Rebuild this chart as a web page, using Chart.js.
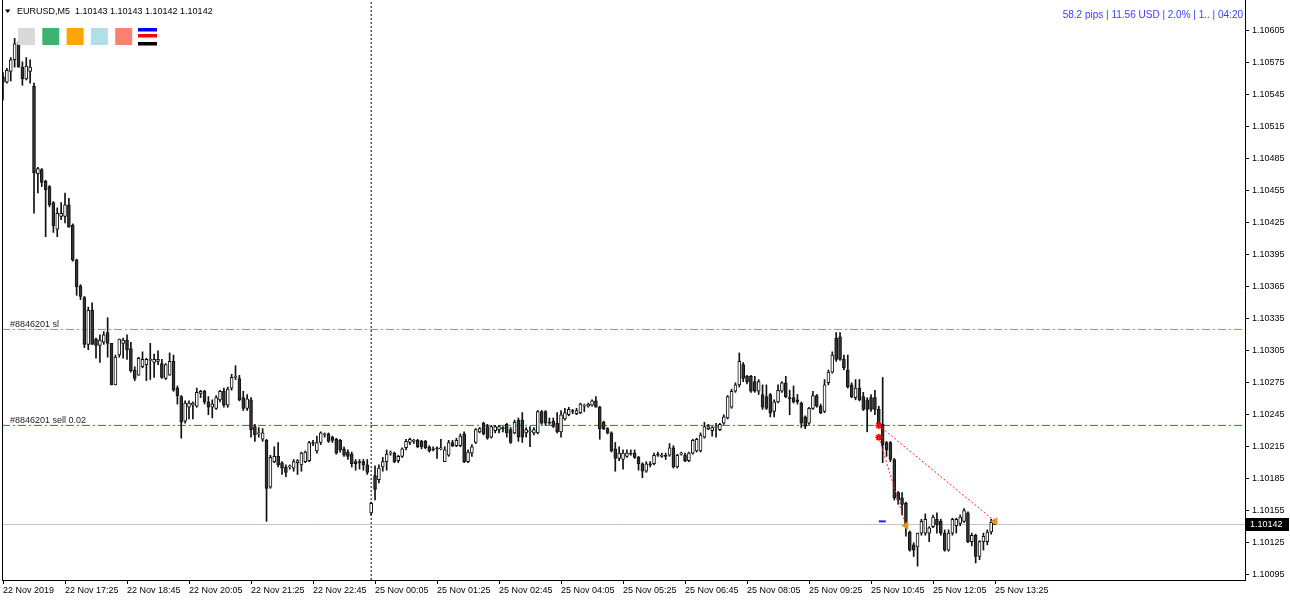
<!DOCTYPE html>
<html>
<head>
    <title>EURUSD,M5</title>
    <script src="https://cdn.jsdelivr.net/npm/chart.js"></script>
    <style>
        body {
            margin: 0;
            background: #ffffff;
        }

        canvas {
            display: block;
        }
    </style>
</head>
<body>
    <canvas id="price-chart" width="1290" height="600" style="width:1290px;height:600px"></canvas>

    <script>
        // EURUSD M5, 22 Nov 2019 16:05 .. 25 Nov 2019 13:25 (one entry per bar)
        const openP = [
            1.10562, 1.10557, 1.10567, 1.10578, 1.10592, 1.10571, 1.10560, 1.10567, 1.10553, 1.10471,
            1.10475, 1.10464, 1.10459, 1.10444, 1.10419, 1.10431, 1.10431, 1.10442, 1.10423, 1.10390,
            1.10366, 1.10355, 1.10311, 1.10343, 1.10316, 1.10310, 1.10313, 1.10322, 1.10312, 1.10273,
            1.10301, 1.10312, 1.10315, 1.10307, 1.10287, 1.10282, 1.10290, 1.10292, 1.10296, 1.10294,
            1.10295, 1.10293, 1.10279, 1.10282, 1.10295, 1.10270, 1.10262, 1.10239, 1.10252, 1.10254,
            1.10253, 1.10265, 1.10267, 1.10257, 1.10252, 1.10251, 1.10259, 1.10267, 1.10254, 1.10270,
            1.10280, 1.10279, 1.10261, 1.10251, 1.10259, 1.10234, 1.10227, 1.10222, 1.10221, 1.10177,
            1.10201, 1.10206, 1.10200, 1.10196, 1.10196, 1.10195, 1.10200, 1.10198, 1.10201, 1.10202,
            1.10219, 1.10211, 1.10219, 1.10226, 1.10227, 1.10224, 1.10222, 1.10221, 1.10213, 1.10210,
            1.10208, 1.10201, 1.10201, 1.10201, 1.10198, 1.10153, 1.10188, 1.10184, 1.10196, 1.10201,
            1.10209, 1.10209, 1.10202, 1.10206, 1.10214, 1.10219, 1.10220, 1.10221, 1.10220, 1.10220,
            1.10215, 1.10213, 1.10214, 1.10213, 1.10201, 1.10207, 1.10219, 1.10216, 1.10216, 1.10227,
            1.10201, 1.10209, 1.10219, 1.10229, 1.10237, 1.10234, 1.10224, 1.10230, 1.10231, 1.10233,
            1.10236, 1.10231, 1.10228, 1.10240, 1.10240, 1.10228, 1.10229, 1.10228, 1.10228, 1.10248,
            1.10248, 1.10238, 1.10239, 1.10237, 1.10229, 1.10241, 1.10245, 1.10249, 1.10246, 1.10247,
            1.10253, 1.10253, 1.10254, 1.10258, 1.10252, 1.10238, 1.10232, 1.10228, 1.10213, 1.10204,
            1.10203, 1.10206, 1.10209, 1.10209, 1.10205, 1.10199, 1.10192, 1.10199, 1.10199, 1.10208,
            1.10206, 1.10207, 1.10207, 1.10214, 1.10196, 1.10208, 1.10207, 1.10202, 1.10209, 1.10211,
            1.10211, 1.10224, 1.10232, 1.10230, 1.10233, 1.10231, 1.10237, 1.10242, 1.10252, 1.10267,
            1.10273, 1.10292, 1.10281, 1.10281, 1.10276, 1.10267, 1.10264, 1.10262, 1.10264, 1.10248,
            1.10257, 1.10267, 1.10275, 1.10261, 1.10261, 1.10259, 1.10256, 1.10243, 1.10237, 1.10251,
            1.10263, 1.10253, 1.10248, 1.10275, 1.10285, 1.10317, 1.10318, 1.10297, 1.10287, 1.10273,
            1.10261, 1.10270, 1.10262, 1.10259, 1.10261, 1.10261, 1.10250, 1.10236, 1.10219, 1.10219,
            1.10203, 1.10172, 1.10167, 1.10162, 1.10135, 1.10123, 1.10121, 1.10134, 1.10134, 1.10134,
            1.10140, 1.10147, 1.10145, 1.10134, 1.10118, 1.10134, 1.10141, 1.10143, 1.10145, 1.10153,
            1.10126, 1.10132, 1.10112, 1.10126, 1.10126, 1.10135, 1.10143
        ];
        const highP = [
            1.10566, 1.10570, 1.10580, 1.10598, 1.10595, 1.10576, 1.10580, 1.10578, 1.10556, 1.10477,
            1.10476, 1.10465, 1.10460, 1.10445, 1.10439, 1.10444, 1.10453, 1.10448, 1.10424, 1.10391,
            1.10367, 1.10356, 1.10346, 1.10350, 1.10317, 1.10320, 1.10323, 1.10336, 1.10312, 1.10301,
            1.10316, 1.10317, 1.10320, 1.10313, 1.10290, 1.10299, 1.10304, 1.10298, 1.10312, 1.10302,
            1.10305, 1.10297, 1.10293, 1.10303, 1.10301, 1.10272, 1.10263, 1.10258, 1.10258, 1.10257,
            1.10270, 1.10268, 1.10268, 1.10262, 1.10259, 1.10263, 1.10268, 1.10270, 1.10271, 1.10283,
            1.10291, 1.10282, 1.10267, 1.10264, 1.10261, 1.10236, 1.10233, 1.10232, 1.10222, 1.10207,
            1.10215, 1.10219, 1.10201, 1.10198, 1.10198, 1.10203, 1.10203, 1.10210, 1.10211, 1.10220,
            1.10221, 1.10225, 1.10229, 1.10228, 1.10228, 1.10225, 1.10223, 1.10222, 1.10215, 1.10212,
            1.10210, 1.10203, 1.10203, 1.10203, 1.10203, 1.10163, 1.10197, 1.10198, 1.10205, 1.10212,
            1.10211, 1.10210, 1.10207, 1.10214, 1.10222, 1.10223, 1.10222, 1.10222, 1.10221, 1.10221,
            1.10216, 1.10215, 1.10215, 1.10222, 1.10215, 1.10221, 1.10221, 1.10223, 1.10227, 1.10229,
            1.10212, 1.10217, 1.10232, 1.10233, 1.10238, 1.10236, 1.10235, 1.10235, 1.10235, 1.10234,
            1.10237, 1.10233, 1.10240, 1.10242, 1.10247, 1.10233, 1.10234, 1.10233, 1.10249, 1.10249,
            1.10249, 1.10242, 1.10242, 1.10247, 1.10249, 1.10251, 1.10252, 1.10250, 1.10251, 1.10256,
            1.10255, 1.10256, 1.10259, 1.10262, 1.10253, 1.10239, 1.10233, 1.10229, 1.10219, 1.10215,
            1.10212, 1.10212, 1.10212, 1.10212, 1.10206, 1.10200, 1.10201, 1.10201, 1.10209, 1.10210,
            1.10209, 1.10209, 1.10218, 1.10216, 1.10208, 1.10210, 1.10209, 1.10210, 1.10222, 1.10223,
            1.10228, 1.10238, 1.10236, 1.10234, 1.10237, 1.10237, 1.10245, 1.10263, 1.10269, 1.10275,
            1.10303, 1.10294, 1.10282, 1.10282, 1.10281, 1.10278, 1.10273, 1.10273, 1.10265, 1.10259,
            1.10273, 1.10276, 1.10281, 1.10268, 1.10272, 1.10264, 1.10257, 1.10244, 1.10252, 1.10267,
            1.10264, 1.10255, 1.10278, 1.10287, 1.10304, 1.10322, 1.10322, 1.10301, 1.10301, 1.10275,
            1.10278, 1.10278, 1.10266, 1.10261, 1.10264, 1.10268, 1.10253, 1.10280, 1.10220, 1.10220,
            1.10204, 1.10173, 1.10172, 1.10163, 1.10136, 1.10125, 1.10134, 1.10147, 1.10152, 1.10140,
            1.10151, 1.10153, 1.10147, 1.10137, 1.10137, 1.10148, 1.10148, 1.10151, 1.10157, 1.10154,
            1.10134, 1.10133, 1.10127, 1.10134, 1.10137, 1.10147, 1.10143
        ];
        const lowP = [
            1.10540, 1.10556, 1.10558, 1.10571, 1.10571, 1.10554, 1.10559, 1.10556, 1.10434, 1.10453,
            1.10459, 1.10412, 1.10440, 1.10416, 1.10412, 1.10428, 1.10425, 1.10421, 1.10389, 1.10357,
            1.10353, 1.10308, 1.10306, 1.10311, 1.10298, 1.10294, 1.10311, 1.10299, 1.10273, 1.10273,
            1.10299, 1.10298, 1.10297, 1.10285, 1.10277, 1.10282, 1.10289, 1.10277, 1.10278, 1.10280,
            1.10292, 1.10279, 1.10278, 1.10282, 1.10267, 1.10255, 1.10223, 1.10237, 1.10241, 1.10241,
            1.10252, 1.10261, 1.10255, 1.10245, 1.10242, 1.10250, 1.10257, 1.10252, 1.10252, 1.10268,
            1.10278, 1.10258, 1.10249, 1.10249, 1.10224, 1.10220, 1.10224, 1.10220, 1.10145, 1.10176,
            1.10200, 1.10196, 1.10189, 1.10187, 1.10194, 1.10192, 1.10189, 1.10192, 1.10200, 1.10201,
            1.10216, 1.10209, 1.10217, 1.10224, 1.10219, 1.10219, 1.10208, 1.10210, 1.10206, 1.10203,
            1.10196, 1.10193, 1.10194, 1.10193, 1.10189, 1.10151, 1.10165, 1.10181, 1.10192, 1.10193,
            1.10207, 1.10200, 1.10200, 1.10205, 1.10212, 1.10217, 1.10218, 1.10214, 1.10213, 1.10213,
            1.10210, 1.10211, 1.10204, 1.10212, 1.10201, 1.10206, 1.10215, 1.10215, 1.10215, 1.10200,
            1.10200, 1.10206, 1.10218, 1.10228, 1.10226, 1.10222, 1.10223, 1.10228, 1.10228, 1.10229,
            1.10224, 1.10218, 1.10227, 1.10220, 1.10219, 1.10224, 1.10215, 1.10226, 1.10227, 1.10236,
            1.10235, 1.10236, 1.10233, 1.10228, 1.10224, 1.10240, 1.10244, 1.10246, 1.10245, 1.10246,
            1.10248, 1.10252, 1.10253, 1.10252, 1.10222, 1.10231, 1.10227, 1.10210, 1.10192, 1.10202,
            1.10194, 1.10205, 1.10207, 1.10204, 1.10193, 1.10186, 1.10191, 1.10196, 1.10198, 1.10206,
            1.10205, 1.10203, 1.10206, 1.10195, 1.10195, 1.10207, 1.10201, 1.10201, 1.10208, 1.10210,
            1.10210, 1.10223, 1.10231, 1.10225, 1.10224, 1.10230, 1.10236, 1.10241, 1.10251, 1.10266,
            1.10271, 1.10276, 1.10274, 1.10266, 1.10266, 1.10264, 1.10250, 1.10250, 1.10243, 1.10243,
            1.10256, 1.10266, 1.10261, 1.10245, 1.10256, 1.10255, 1.10233, 1.10232, 1.10236, 1.10250,
            1.10252, 1.10246, 1.10247, 1.10273, 1.10284, 1.10295, 1.10296, 1.10287, 1.10270, 1.10261,
            1.10259, 1.10258, 1.10249, 1.10229, 1.10248, 1.10245, 1.10234, 1.10200, 1.10206, 1.10201,
            1.10165, 1.10161, 1.10151, 1.10131, 1.10117, 1.10112, 1.10103, 1.10132, 1.10132, 1.10126,
            1.10139, 1.10134, 1.10132, 1.10117, 1.10117, 1.10132, 1.10134, 1.10141, 1.10144, 1.10125,
            1.10122, 1.10106, 1.10109, 1.10118, 1.10123, 1.10133, 1.10142
        ];
        const closeP = [
            1.10557, 1.10568, 1.10578, 1.10593, 1.10571, 1.10560, 1.10572, 1.10571, 1.10472, 1.10476,
            1.10463, 1.10456, 1.10442, 1.10422, 1.10434, 1.10434, 1.10442, 1.10421, 1.10390, 1.10365,
            1.10356, 1.10311, 1.10343, 1.10311, 1.10310, 1.10315, 1.10320, 1.10312, 1.10273, 1.10299,
            1.10316, 1.10315, 1.10306, 1.10286, 1.10279, 1.10298, 1.10297, 1.10297, 1.10297, 1.10297,
            1.10297, 1.10280, 1.10292, 1.10295, 1.10268, 1.10263, 1.10238, 1.10256, 1.10256, 1.10256,
            1.10266, 1.10267, 1.10257, 1.10252, 1.10255, 1.10261, 1.10267, 1.10254, 1.10269, 1.10280,
            1.10281, 1.10259, 1.10251, 1.10260, 1.10231, 1.10226, 1.10228, 1.10228, 1.10176, 1.10205,
            1.10206, 1.10198, 1.10195, 1.10191, 1.10197, 1.10201, 1.10202, 1.10209, 1.10210, 1.10219,
            1.10218, 1.10219, 1.10228, 1.10227, 1.10220, 1.10221, 1.10209, 1.10212, 1.10207, 1.10206,
            1.10199, 1.10199, 1.10200, 1.10198, 1.10191, 1.10162, 1.10175, 1.10195, 1.10201, 1.10208,
            1.10210, 1.10201, 1.10206, 1.10213, 1.10220, 1.10222, 1.10221, 1.10215, 1.10215, 1.10214,
            1.10211, 1.10212, 1.10213, 1.10214, 1.10212, 1.10219, 1.10216, 1.10221, 1.10225, 1.10201,
            1.10210, 1.10215, 1.10231, 1.10232, 1.10227, 1.10223, 1.10234, 1.10234, 1.10234, 1.10232,
            1.10228, 1.10219, 1.10238, 1.10224, 1.10224, 1.10231, 1.10230, 1.10231, 1.10248, 1.10237,
            1.10237, 1.10237, 1.10234, 1.10229, 1.10245, 1.10247, 1.10250, 1.10248, 1.10249, 1.10255,
            1.10254, 1.10255, 1.10258, 1.10252, 1.10232, 1.10232, 1.10228, 1.10211, 1.10204, 1.10209,
            1.10209, 1.10209, 1.10208, 1.10205, 1.10199, 1.10192, 1.10199, 1.10198, 1.10207, 1.10207,
            1.10207, 1.10206, 1.10214, 1.10196, 1.10207, 1.10209, 1.10202, 1.10209, 1.10221, 1.10222,
            1.10226, 1.10234, 1.10234, 1.10233, 1.10234, 1.10236, 1.10243, 1.10262, 1.10267, 1.10273,
            1.10295, 1.10279, 1.10276, 1.10267, 1.10267, 1.10276, 1.10252, 1.10251, 1.10247, 1.10257,
            1.10268, 1.10275, 1.10262, 1.10260, 1.10257, 1.10257, 1.10237, 1.10234, 1.10251, 1.10263,
            1.10253, 1.10247, 1.10273, 1.10285, 1.10301, 1.10297, 1.10297, 1.10289, 1.10271, 1.10262,
            1.10270, 1.10259, 1.10250, 1.10250, 1.10250, 1.10250, 1.10236, 1.10217, 1.10212, 1.10203,
            1.10167, 1.10165, 1.10161, 1.10140, 1.10118, 1.10118, 1.10134, 1.10145, 1.10147, 1.10139,
            1.10149, 1.10142, 1.10134, 1.10118, 1.10134, 1.10147, 1.10147, 1.10149, 1.10155, 1.10126,
            1.10132, 1.10112, 1.10126, 1.10131, 1.10135, 1.10144, 1.10142
        ];

        const timeTickIdx = [0, 16, 32, 48, 64, 80, 96, 112, 128, 144, 160, 176, 192, 208, 224, 240, 256];
        const timeLabels = [
            '22 Nov 2019', '22 Nov 17:25', '22 Nov 18:45', '22 Nov 20:05', '22 Nov 21:25', '22 Nov 22:45',
            '25 Nov 00:05', '25 Nov 01:25', '25 Nov 02:45', '25 Nov 04:05', '25 Nov 05:25', '25 Nov 06:45',
            '25 Nov 08:05', '25 Nov 09:25', '25 Nov 10:45', '25 Nov 12:05', '25 Nov 13:25'
        ];
        const priceTicks = [
            1.10095, 1.10125, 1.10155, 1.10185, 1.10215, 1.10245, 1.10275, 1.10305, 1.10335,
            1.10365, 1.10395, 1.10425, 1.10455, 1.10485, 1.10515, 1.10545, 1.10575, 1.10605
        ];

        // order lines and trade history
        const slPrice = 1.10325;
        const entryPrice = 1.10235;
        const bidPrice = 1.10142;
        const separatorIdx = 95;
        const tradeOpenIdx = [226, 226];
        const tradeOpenPrice = [1.10235, 1.10224];
        const tradeCloseIdx = [256, 233];
        const tradeClosePrice = [1.10145, 1.10141];
        const markIdx = [226, 227.8];
        const markPrice = 1.10145;

        const symbol = 'EURUSD,M5';
        const infoText = '58.2 pips | 11.56 USD | 2.0% | 1.. | 04:20';
        const slLabel = '#8846201 sl';
        const entryLabel = '#8846201 sell 0.02';
        const swatchColors = ['#d9d9d9', '#3cb371', '#ffa500', '#b0e0e6', '#fa8072'];

        const xMin = -0.26;
        const xMax = 320.5;
        const yMin = 1.10090;
        const yMax = 1.10634;
        const FONT = '"Liberation Sans", Arial, sans-serif';

        Chart.defaults.font.family = FONT;
        Chart.defaults.font.size = 9;
        Chart.defaults.color = '#000';

        const idx = openP.map((v, i) => i);
        const wickData = idx.map(i => ({x: i, y: [lowP[i], highP[i]]}));
        const bodyData = idx.map(i => ({x: i, y: [Math.min(openP[i], closeP[i]), Math.max(openP[i], closeP[i])]}));
        const bodyColors = idx.map(i => closeP[i] > openP[i] ? '#ffffff' : '#333333');

        function hline(price, color, dash) {
            return {
                type: 'line',
                data: [{x: xMin, y: price}, {x: xMax, y: price}],
                borderColor: color,
                backgroundColor: color,
                borderWidth: 1,
                borderDash: dash,
                pointRadius: 0,
                fill: false,
                order: 3
            };
        }

        const tradeLines = tradeOpenIdx.map((o, k) => ({
            type: 'line',
            data: [{x: o, y: tradeOpenPrice[k]}, {x: tradeCloseIdx[k], y: tradeClosePrice[k]}],
            borderColor: '#ff2020',
            borderWidth: 1,
            borderDash: [2, 2],
            pointRadius: 0,
            fill: false,
            order: 0
        }));

        const overlay = {
            id: 'overlay',
            afterDraw(chart) {
                const c = chart.ctx;
                const area = chart.chartArea;
                const ys = chart.scales.y;
                c.save();

                // left frame line
                c.strokeStyle = '#000';
                c.lineWidth = 1;
                c.beginPath();
                c.moveTo(area.left + 0.5, area.top);
                c.lineTo(area.left + 0.5, area.bottom);
                c.stroke();

                // header
                c.fillStyle = '#000';
                c.beginPath();
                c.moveTo(5, 9.5);
                c.lineTo(10.5, 9.5);
                c.lineTo(7.75, 13);
                c.closePath();
                c.fill();
                const last = openP.length - 1;
                const ohlc = [openP[last], highP[last], lowP[last], closeP[last]].map(v => v.toFixed(5)).join(' ');
                c.font = '9px ' + FONT;
                c.textBaseline = 'alphabetic';
                c.textAlign = 'left';
                c.fillText(symbol + '  ' + ohlc, 17, 14);

                // colour buttons
                swatchColors.forEach((col, k) => {
                    c.fillStyle = col;
                    c.fillRect(18 + k * 24.3, 28, 17, 17);
                });
                c.fillStyle = '#0000ff';
                c.fillRect(138, 28, 19, 3.5);
                c.fillStyle = '#ff0000';
                c.fillRect(138, 34, 19, 3.5);
                c.fillStyle = '#000000';
                c.fillRect(138, 42, 19, 3.5);

                // info line top right
                c.font = '10px ' + FONT;
                c.fillStyle = '#3c3cff';
                c.textAlign = 'right';
                c.fillText(infoText, area.right - 2, 18);

                // order labels
                c.font = '9px ' + FONT;
                c.fillStyle = '#1a1a1a';
                c.textAlign = 'left';
                c.fillText(slLabel, 10, ys.getPixelForValue(slPrice) - 2);
                c.fillText(entryLabel, 10, ys.getPixelForValue(entryPrice) - 2);

                // bid price box
                const by = Math.round(ys.getPixelForValue(bidPrice));
                c.fillStyle = '#000';
                c.fillRect(area.right + 1, by - 7, 43, 13);
                c.fillStyle = '#fff';
                c.textBaseline = 'middle';
                c.fillText(bidPrice.toFixed(5), area.right + 5, by);

                c.restore();
            }
        };

        const ctx = document.getElementById('price-chart').getContext('2d');
        new Chart(ctx, {
            type: 'bar',
            data: {
                datasets: [
                    {
                        label: 'body',
                        data: bodyData,
                        backgroundColor: bodyColors,
                        borderColor: '#111111',
                        borderWidth: 1,
                        borderSkipped: false,
                        barThickness: 3,
                        minBarLength: 1,
                        grouped: false,
                        order: 1
                    },
                    {
                        label: 'wick',
                        data: wickData,
                        backgroundColor: '#111111',
                        borderWidth: 0,
                        barThickness: 1,
                        grouped: false,
                        order: 2
                    },
                    hline(slPrice, 'rgb(255, 110, 60)', [8, 3, 2, 3]),
                    hline(entryPrice, 'rgb(10, 150, 10)', [8, 3, 2, 3]),
                    hline(bidPrice, 'rgb(196, 196, 196)', []),
                    {
                        type: 'line',
                        data: [{x: separatorIdx, y: yMin}, {x: separatorIdx, y: yMax}],
                        borderColor: '#000',
                        borderWidth: 1,
                        borderDash: [2, 2],
                        pointRadius: 0,
                        order: 3
                    },
                    ...tradeLines,
                    {
                        type: 'line',
                        data: markIdx.map(v => ({x: v, y: markPrice})),
                        borderColor: '#2020ff',
                        borderWidth: 2,
                        pointRadius: 0,
                        order: 0
                    },
                    {
                        type: 'line',
                        showLine: false,
                        data: tradeOpenIdx.map((o, k) => ({x: o, y: tradeOpenPrice[k]})),
                        pointStyle: 'star',
                        pointRadius: 3.5,
                        pointBorderWidth: 1.5,
                        pointBorderColor: '#ff0000',
                        pointBackgroundColor: '#ff0000',
                        order: 0
                    },
                    {
                        type: 'line',
                        showLine: false,
                        data: tradeCloseIdx.map((o, k) => ({x: o, y: tradeClosePrice[k]})),
                        pointStyle: 'triangle',
                        pointRotation: -90,
                        pointRadius: 4,
                        pointBorderWidth: 1,
                        pointBorderColor: '#e0a020',
                        pointBackgroundColor: '#e0a020',
                        order: 0
                    }
                ]
            },
            options: {
                responsive: false,
                animation: false,
                events: [],
                layout: {
                    autoPadding: false,
                    padding: {left: 2, top: 0, right: 0, bottom: 0}
                },
                plugins: {
                    legend: {display: false},
                    tooltip: {enabled: false}
                },
                scales: {
                    x: {
                        type: 'linear',
                        min: xMin,
                        max: xMax,
                        offset: false,
                        grid: {display: true, drawOnChartArea: false, offset: false, tickLength: 4, color: '#000'},
                        border: {display: true, color: '#000'},
                        ticks: {
                            autoSkip: false,
                            maxRotation: 0,
                            align: 'start',
                            padding: 1,
                            callback: (value, i) => timeLabels[i]
                        },
                        afterBuildTicks: axis => {
                            axis.ticks = timeTickIdx.map(v => ({value: v}));
                        },
                        afterFit: axis => {
                            axis.height = 20;
                            axis.paddingLeft = 0;
                            axis.paddingRight = 0;
                        }
                    },
                    y: {
                        position: 'right',
                        min: yMin,
                        max: yMax,
                        grid: {display: true, drawOnChartArea: false, tickLength: 4, color: '#000'},
                        border: {display: true, color: '#000'},
                        ticks: {
                            autoSkip: false,
                            padding: 3,
                            callback: value => value.toFixed(5)
                        },
                        afterBuildTicks: axis => {
                            axis.ticks = priceTicks.map(v => ({value: v}));
                        },
                        afterFit: axis => {
                            axis.width = 45;
                            axis.paddingTop = 0;
                            axis.paddingBottom = 0;
                        }
                    }
                }
            },
            plugins: [overlay]
        });
    </script>
</body>
</html>
